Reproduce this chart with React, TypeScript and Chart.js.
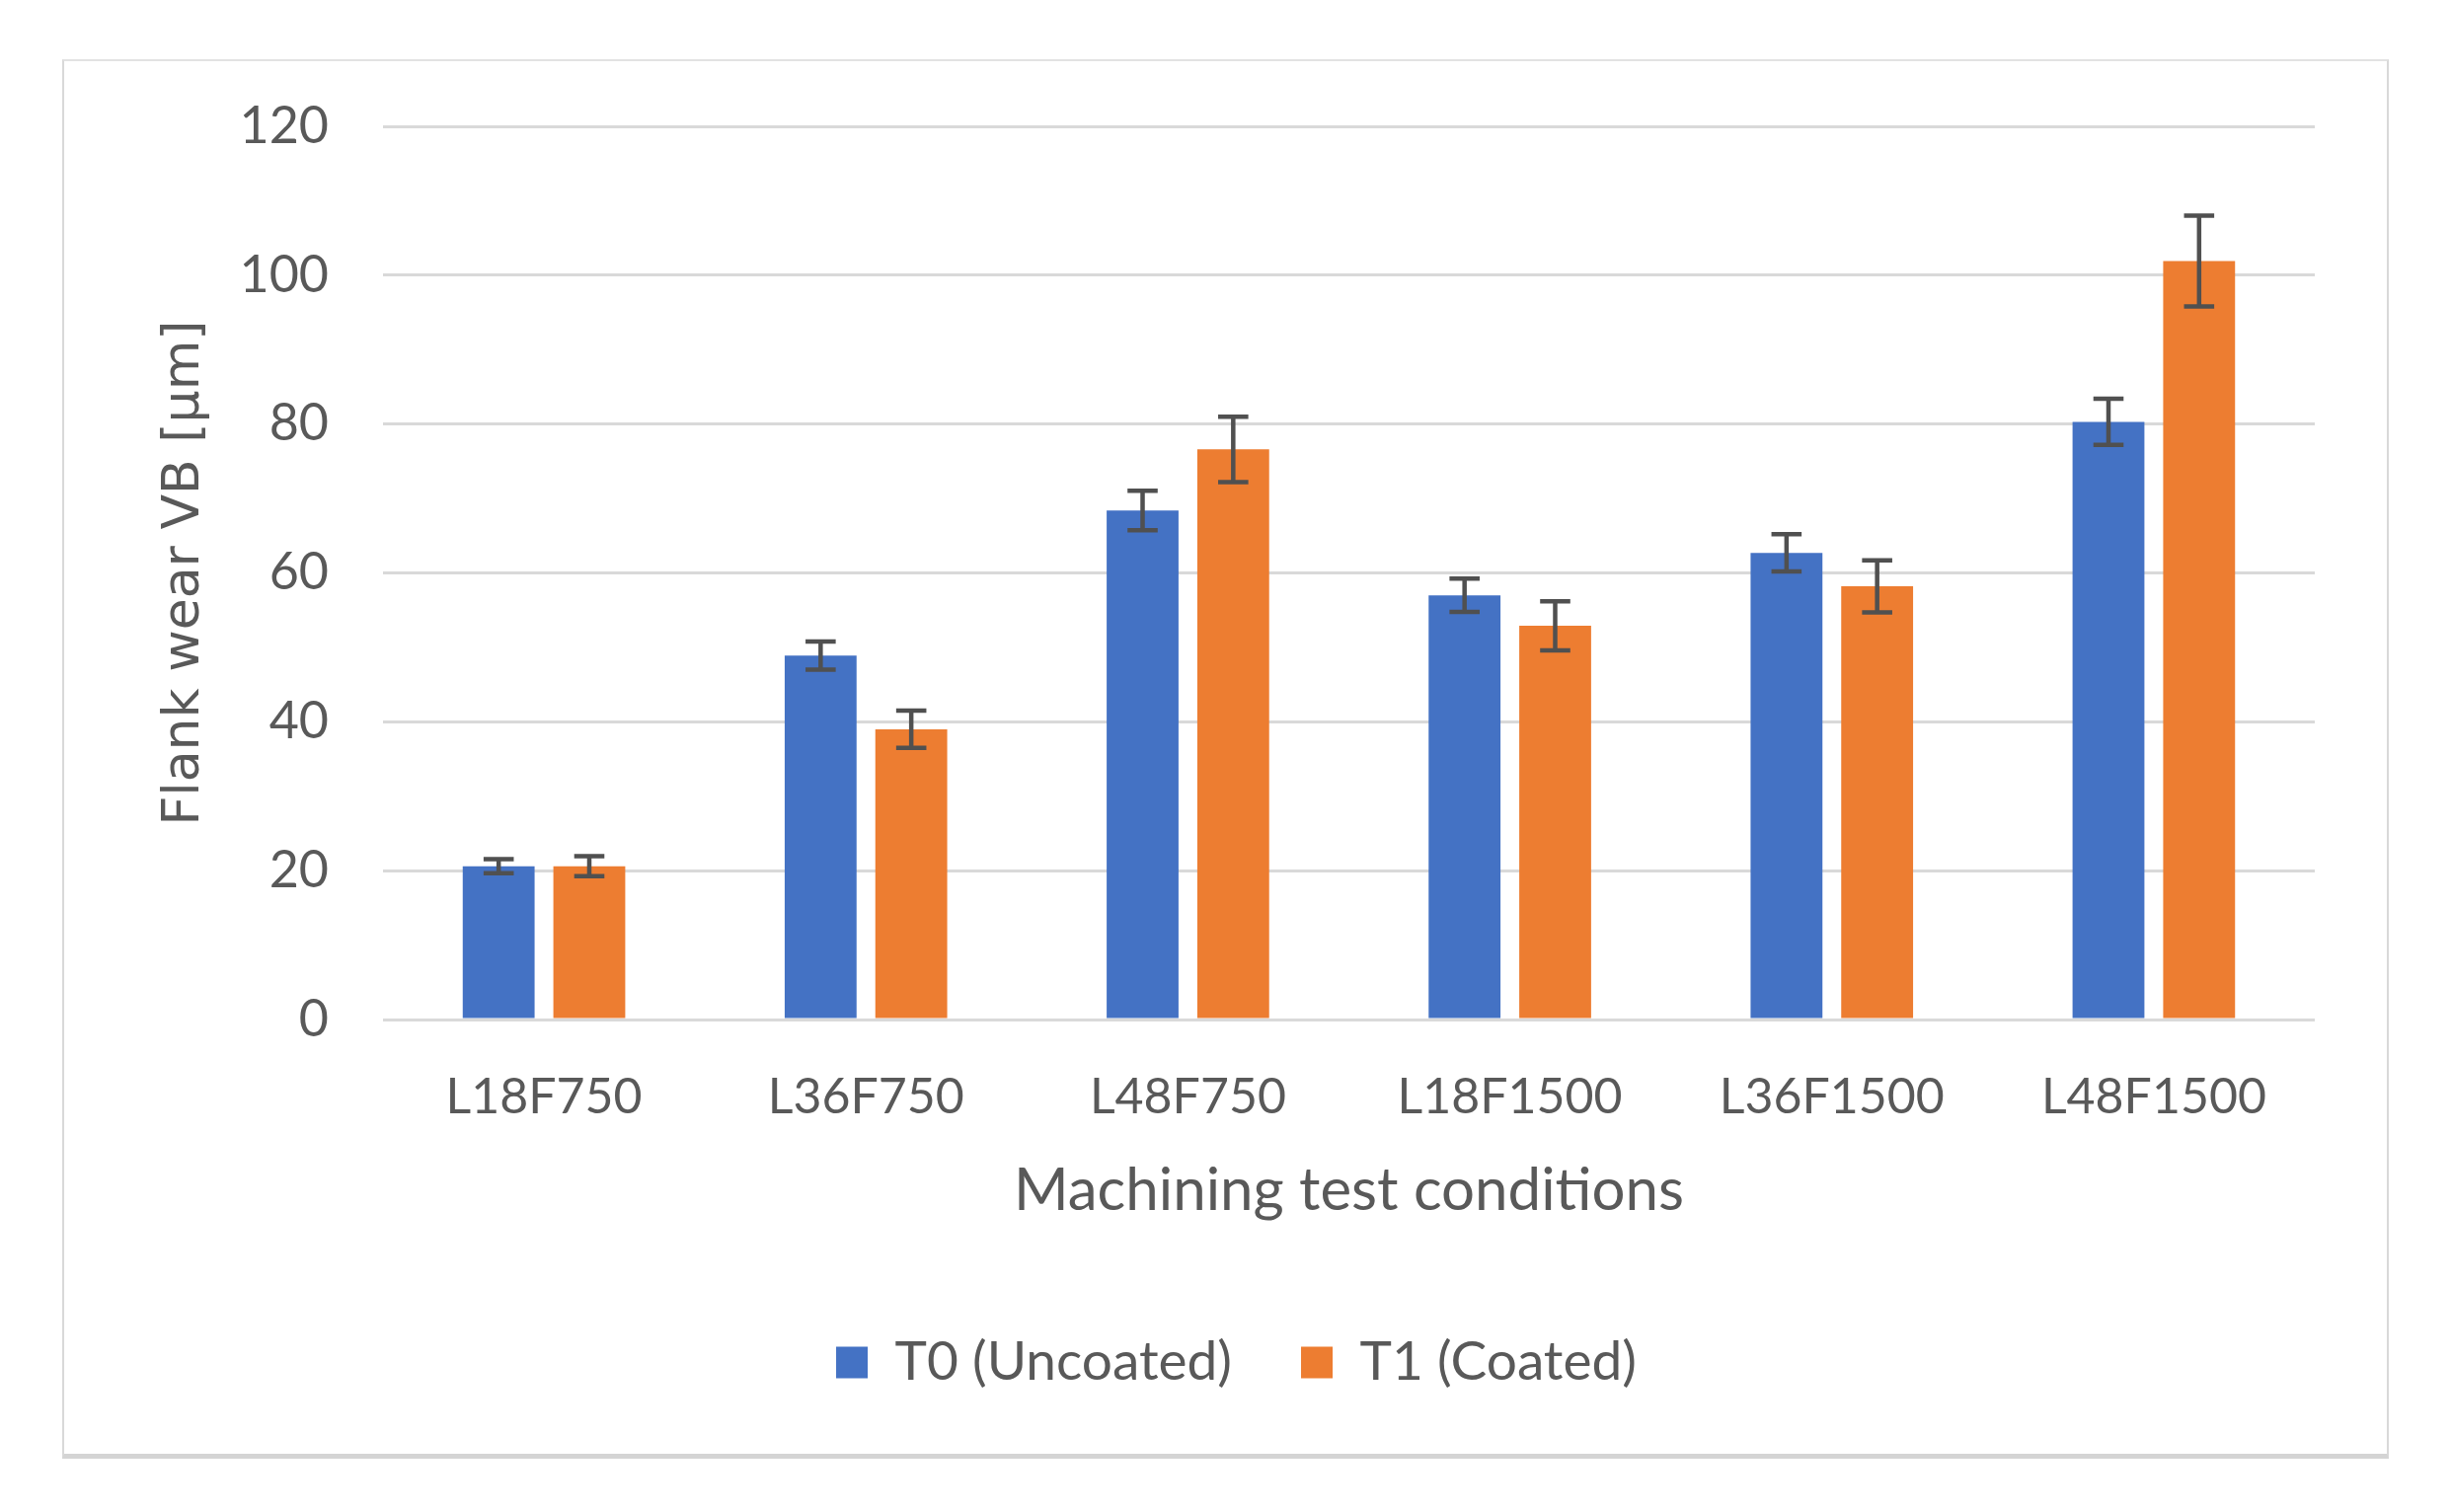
import React, { useEffect, useRef } from "react";
import { Chart, registerables } from "chart.js";

Chart.register(...registerables);

const categories = ["L18F750", "L36F750", "L48F750", "L18F1500", "L36F1500", "L48F1500"];
const seriesNames = ["T0 (Uncoated)", "T1 (Coated)"];
const t0Values = [20.6, 48.9, 68.4, 57.0, 62.7, 80.3];
const t0Errors = [0.95, 1.9, 2.65, 2.25, 2.5, 3.1];
const t1Values = [20.6, 39.0, 76.6, 52.9, 58.2, 101.9];
const t1Errors = [1.35, 2.5, 4.4, 3.3, 3.5, 6.1];
const yMin = 0;
const yMax = 120;
const yStep = 20;
const xTitle = "Machining test conditions";
const yTitle = "Flank wear VB [µm]";

const W = 2483;
const H = 1532;
const TEXT = "#595959";
const FONT = "Lato, 'Open Sans', sans-serif";

const errorBarPlugin = {
  id: "errorBars",
  afterDatasetsDraw(chart: any) {
    const ctx = chart.ctx;
    const yScale = chart.scales.y;
    chart.data.datasets.forEach((ds: any, i: number) => {
      const meta = chart.getDatasetMeta(i);
      const errs: number[] = ds.errors || [];
      meta.data.forEach((bar: any, j: number) => {
        const v = ds.data[j];
        const e = errs[j];
        if (e == null) return;
        const x = bar.x;
        const yTop = yScale.getPixelForValue(v + e);
        const yBot = yScale.getPixelForValue(v - e);
        const cap = bar.width * 0.21;
        ctx.save();
        ctx.strokeStyle = "#505050";
        ctx.lineWidth = 4.5;
        ctx.lineCap = "butt";
        ctx.beginPath();
        ctx.moveTo(x, yTop);
        ctx.lineTo(x, yBot);
        ctx.moveTo(x - cap, yTop);
        ctx.lineTo(x + cap, yTop);
        ctx.moveTo(x - cap, yBot);
        ctx.lineTo(x + cap, yBot);
        ctx.stroke();
        ctx.restore();
      });
    });
  },
};

export default function App() {
  const canvasRef = useRef<HTMLCanvasElement | null>(null);

  useEffect(() => {
    const canvas = canvasRef.current;
    if (!canvas) return;
    const chart = new Chart(canvas, {
      type: "bar",
      data: {
        labels: categories,
        datasets: [
          {
            label: seriesNames[0],
            data: t0Values,
            errors: t0Errors,
            backgroundColor: "#4472C4",
            borderWidth: 0,
            categoryPercentage: 0.563,
            barPercentage: 0.793,
          } as any,
          {
            label: seriesNames[1],
            data: t1Values,
            errors: t1Errors,
            backgroundColor: "#ED7D31",
            borderWidth: 0,
            categoryPercentage: 0.563,
            barPercentage: 0.793,
          } as any,
        ],
      },
      options: {
        animation: false,
        responsive: false,
        devicePixelRatio: 1,
        layout: { padding: { left: 74, right: 52, top: 128, bottom: 114 } },
        plugins: {
          legend: {
            position: "bottom",
            labels: {
              font: { family: FONT, size: 55 },
              color: TEXT,
              boxWidth: 32,
              boxHeight: 32,
              padding: 70,
            },
          },
          tooltip: { enabled: false },
        },
        scales: {
          x: {
            grid: { display: false, drawTicks: false },
            border: { display: false },
            ticks: {
              font: { family: FONT, size: 50 },
              color: TEXT,
              padding: 49,
              maxRotation: 0,
            },
            title: {
              display: true,
              text: xTitle,
              font: { family: FONT, size: 60 },
              color: TEXT,
              padding: { top: 0, bottom: 40 },
            },
            afterFit(scale: any) {
              scale.height = 250;
            },
          },
          y: {
            min: yMin,
            max: yMax,
            grid: { color: "#d9d9d9", lineWidth: 3, drawTicks: false },
            border: { display: false },
            ticks: {
              stepSize: yStep,
              font: { family: FONT, size: 52 },
              color: TEXT,
              padding: 55,
            },
            title: {
              display: true,
              text: yTitle,
              font: { family: "'DejaVu Sans', sans-serif", size: 52 },
              color: TEXT,
              padding: { top: 82, bottom: 0 },
            },
            afterFit(scale: any) {
              scale.width = 314;
            },
          },
          yRight: {
            type: "linear",
            position: "right",
            display: true,
            grid: { display: false, drawTicks: false },
            border: { display: false },
            ticks: { display: false },
            afterFit(scale: any) {
              scale.width = 86;
            },
          },
        },
      } as any,
      plugins: [errorBarPlugin],
    });
    return () => chart.destroy();
  }, []);

  return (
    <div style={{ position: "fixed", left: 0, top: 0, width: W, height: H, background: "#ffffff" }}>
      <div
        style={{
          position: "absolute",
          left: 63,
          top: 60,
          width: 2357,
          height: 1418,
          boxSizing: "border-box",
          borderLeft: "2px solid #d9d9d9",
          borderRight: "2px solid #d9d9d9",
          borderTop: "2px solid #e2e2e2",
          borderBottom: "5px solid #d4d4d4",
        }}
      />
      <canvas
        ref={canvasRef}
        width={W}
        height={H}
        style={{ position: "absolute", left: 0, top: 0, width: W, height: H, display: "block" }}
      />
    </div>
  );
}
